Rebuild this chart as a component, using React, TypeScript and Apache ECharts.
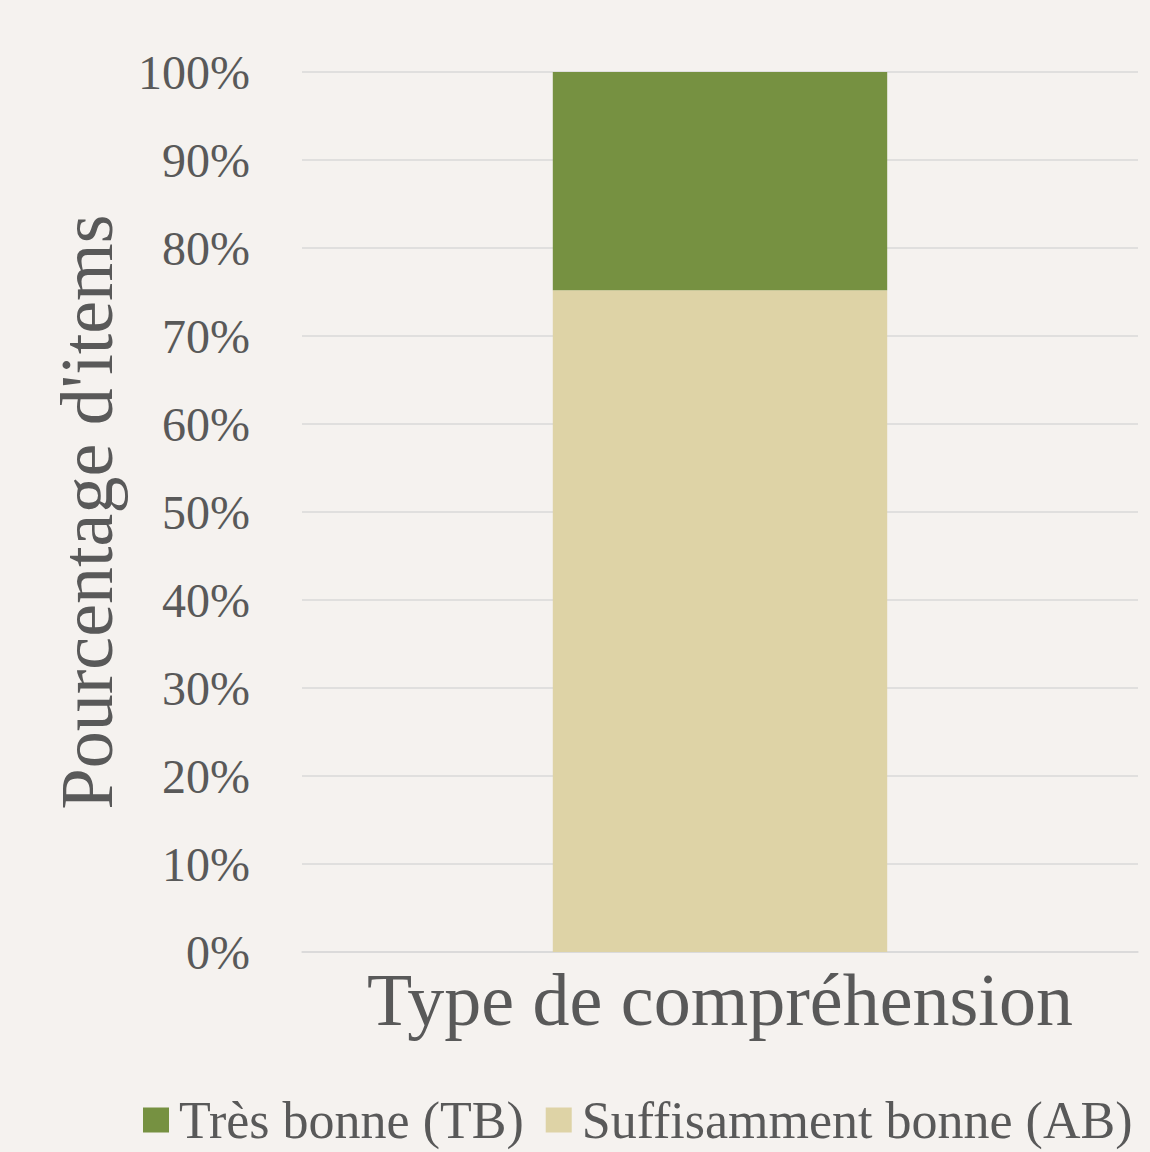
import React, { useEffect, useRef } from "react";
import * as echarts from "echarts";

const categories = ["Type de compréhension"];
const seriesNames = ["Suffisamment bonne (AB)", "Très bonne (TB)"];
const abValues = [75.2];
const tbValues = [24.8];
const legendOrder = ["Très bonne (TB)", "Suffisamment bonne (AB)"];

const FONT = "'Liberation Serif', 'Times New Roman', serif";
const TEXT = "#595959";

export default function App() {
  const ref = useRef<HTMLDivElement>(null);
  useEffect(() => {
    if (!ref.current) return;
    const chart = echarts.init(ref.current, null, { renderer: "svg" });
    chart.setOption({
      animation: false,
      backgroundColor: "#F5F2EF",
      textStyle: { fontFamily: FONT, color: TEXT },
      grid: { left: 302, right: 12, top: 72, bottom: 200, containLabel: false },
      legend: {
        data: legendOrder,
        left: 138,
        top: 1089,
        width: 1400,
        itemWidth: 26,
        itemHeight: 25,
        itemGap: 22,
        icon: "rect",
        textStyle: { fontFamily: FONT, fontSize: 52, color: TEXT, padding: [0, 0, 0, 5] },
      },
      xAxis: {
        type: "category",
        data: categories,
        axisLine: { show: true, lineStyle: { color: "#D9D9D9", width: 1.5 } },
        axisTick: { show: false },
        axisLabel: { fontFamily: FONT, fontSize: 74, color: TEXT, margin: 11 },
      },
      yAxis: {
        type: "value",
        min: 0,
        max: 100,
        interval: 10,
        name: "Pourcentage d'items",
        nameLocation: "middle",
        nameRotate: 90,
        nameGap: 178,
        nameTextStyle: { fontFamily: FONT, fontSize: 74, color: TEXT },
        axisLine: { show: false },
        axisTick: { show: false },
        axisLabel: {
          fontFamily: FONT,
          fontSize: 48,
          color: TEXT,
          margin: 52,
          formatter: (v: number) => v + "%",
        },
        splitLine: { show: true, lineStyle: { color: "#D9D9D9", width: 1.5 } },
      },
      series: [
        {
          name: seriesNames[0],
          type: "bar",
          stack: "total",
          data: abValues,
          barWidth: "40%",
          itemStyle: { color: "#DED3A6" },
        },
        {
          name: seriesNames[1],
          type: "bar",
          stack: "total",
          data: tbValues,
          barWidth: "40%",
          itemStyle: { color: "#769141" },
        },
      ],
    });
    return () => chart.dispose();
  }, []);
  return (
    <div
      ref={ref}
      style={{ position: "fixed", left: 0, top: 0, width: 1150, height: 1152 }}
    />
  );
}
